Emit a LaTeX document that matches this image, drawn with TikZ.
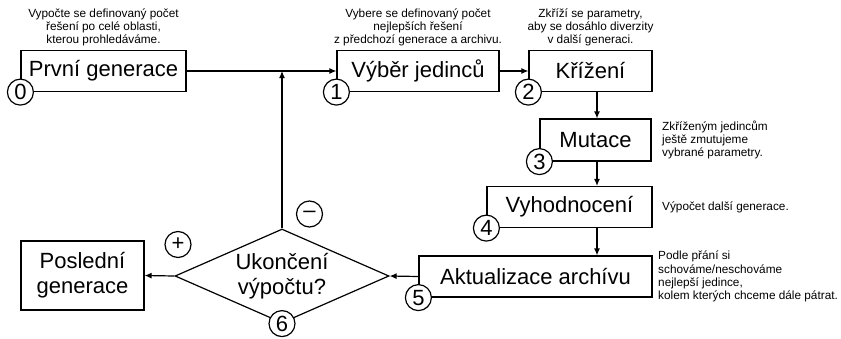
\documentclass[tikz,border=0pt]{standalone}
\usepackage{fontspec}
\setmainfont{Liberation Sans}
\usetikzlibrary{shapes.geometric,arrows.meta}

\begin{document}
\begin{tikzpicture}[x=0.5pt,y=-0.5pt,line width=0.6pt,
		>={Latex[length=3.5pt,width=3pt]},
		krok/.style={draw,fill=white,minimum height=20.5pt,inner sep=0pt,font=\fontsize{11}{12.5}\selectfont},
		cislo/.style={draw,circle,fill=white,minimum size=13pt,inner sep=0pt,font=\fontsize{11}{12}\selectfont},
		pozn/.style={inner sep=0pt,font=\fontsize{5.9}{6.6}\selectfont}]
		\useasboundingbox (0,0) rectangle (841,338);
		
		\node[krok,minimum width=82.5pt] (b0) at (103.5,71) {První generace};
		\node[krok,minimum width=81pt] (b1) at (418,71) {Výběr jedinců};
		\node[krok,minimum width=61.5pt] (b2) at (590.5,71) {Křížení};
		\node[krok,minimum width=55.5pt,minimum height=21pt] (b3) at (595.5,140) {Mutace};
		\node[krok,minimum width=82.5pt] (b4) at (569.5,207) {Vyhodnocení};
		\node[krok,minimum width=116.5pt] (b5) at (535.5,276.5) {Aktualizace archívu};
		\node[krok,minimum width=61.5pt,minimum height=34.5pt,align=center] (b7) at (82.5,275.5) {Poslední\\generace};
		\node[draw,diamond,aspect=2.28,minimum width=107pt,minimum height=47pt,inner sep=0pt,align=center,font=\fontsize{11}{12.5}\selectfont] (d6) at (282,276) {Ukončení\\výpočtu?};
		
		\coordinate (col) at (597,0);
		
		\draw[->] (b0.east) -- (b1.west);
		\draw[->] (d6.north) -- (d6.north |- b0.east);
		\draw[->] (b1.east) -- (b2.west);
		\draw[->] (b2.south -| col) -- (b3.north -| col);
		\draw[->] (b3.south -| col) -- (b4.north -| col);
		\draw[->] (b4.south -| col) -- (b5.north -| col);
		\draw[->] (b5.west) -- (d6.east);
		\draw[->] (d6.west) -- (b7.east);
		
		\node[cislo] (c0) at (b0.south west) {0};
		\node[cislo] (c1) at (b1.south west) {1};
		\node[cislo] (c2) at (b2.south west) {2};
		\node[cislo] (c3) at (b3.south west) {3};
		\node[cislo] (c4) at (b4.south west) {4};
		\node[cislo] (c5) at (b5.south west) {5};
		\node[cislo] (c6) at (d6.south) {6};
		\node[cislo] (plus) at (178,244.5) {+};
		\node[cislo] (minus) at (309.5,214) {\textendash};
		
		\node[pozn,align=center,anchor=south] (n0) at ([yshift=1.5pt]b0.north) {Vypočte se definovaný počet\\řešení po celé oblasti,\\kterou prohledáváme.};
		\node[pozn,align=center,anchor=south] (n1) at ([yshift=1.5pt]b1.north) {Vybere se definovaný počet\\nejlepších řešení\\z předchozí generace a archivu.};
		\node[pozn,align=center,anchor=south] (n2) at ([yshift=1.5pt]b2.north) {Zkříží se parametry,\\aby se dosáhlo diverzity\\v další generaci.};
		\node[pozn,align=left,anchor=west] (n3) at ([xshift=5pt]b3.east) {Zkříženým jedincům\\ještě zmutujeme\\vybrané parametry.};
		\node[pozn,align=left,anchor=west] (n4) at ([xshift=4.5pt]b4.east) {Výpočet další generace.};
		\node[pozn,align=left,anchor=west] (n5) at ([xshift=2.5pt]b5.east) {Podle přání si\\schováme/neschováme\\nejlepší jedince,\\kolem kterých chceme dále pátrat.};
	\end{tikzpicture}
\end{document}
